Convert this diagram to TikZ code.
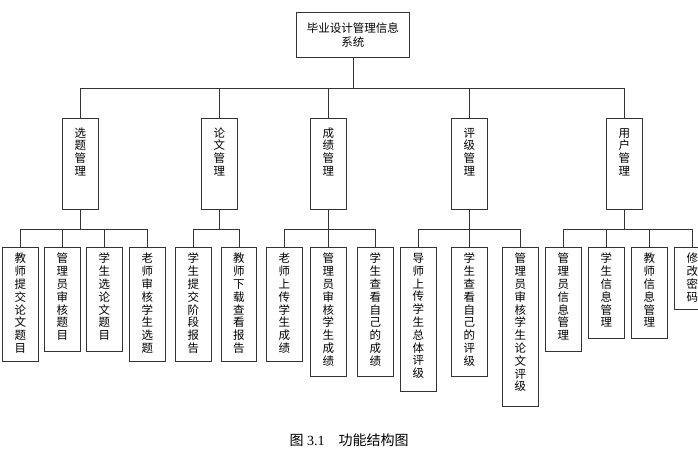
\documentclass[tikz,border=0pt]{standalone}
\usepackage{fontspec}
\setmainfont{Liberation Serif}
\newfontfamily\cjk{Noto Sans CJK SC}
\usetikzlibrary{shadows}
\tikzset{
  bx/.style={draw=black!80, line width=0.9pt, fill=white, drop shadow={shadow xshift=1pt,shadow yshift=-1pt,fill=black!35,opacity=1}, inner sep=0pt},
  vtxt/.style={font=\cjk\fontsize{11.5}{12.8}\selectfont, align=center, anchor=north, inner sep=0pt},
  ln/.style={draw=black!80, line width=0.9pt}
}
\newcommand{\mybox}[6]{% name, x1, y1, x2, y2, text
  \node[bx, anchor=north west, minimum width={(#4-#2)*1pt}, minimum height={(#5-#3)*1pt}] (#1) at (#2pt,-#3pt) {};
  \node[vtxt] (#1t) at ([yshift=-6pt]#1.north) {#6};
}
\begin{document}
\begin{tikzpicture}
\useasboundingbox (0,0) rectangle (698pt,-459pt);
% top
\node[bx, anchor=north west, minimum width=113pt, minimum height=45pt, font=\cjk\fontsize{11.5}{14}\selectfont, align=center] (top) at (296pt,-12pt) {毕业设计管理信息\\系统};
% middle
\mybox{m1}{62}{118}{98}{209}{\\选\\题\\管\\理}
\mybox{m2}{201}{118}{237}{209}{\\论\\文\\管\\理}
\mybox{m3}{310}{118}{346}{209}{\\成\\绩\\管\\理}
\mybox{m4}{451}{118}{487}{209}{\\评\\级\\管\\理}
\mybox{m5}{606}{118}{642}{209}{\\用\\户\\管\\理}
\coordinate (bus) at (0,-88pt);
\foreach \m in {m1,m2,m3,m4,m5} \draw[ln] (top.south) -- (top.south |- bus) -| (\m.north);
% leaves
\mybox{a1}{2}{247}{38}{361}{教\\师\\提\\交\\论\\文\\题\\目}
\mybox{a2}{44}{247}{80}{351}{管\\理\\员\\审\\核\\题\\目}
\mybox{a3}{86}{247}{122}{351}{学\\生\\选\\论\\文\\题\\目}
\mybox{a4}{129}{247}{165}{361}{老\\师\\审\\核\\学\\生\\选\\题}
\mybox{b1}{175}{247}{211}{361}{学\\生\\提\\交\\阶\\段\\报\\告}
\mybox{b2}{221}{247}{256}{361}{教\\师\\下\\载\\查\\看\\报\\告}
\mybox{c1}{266}{247}{302}{361}{老\\师\\上\\传\\学\\生\\成\\绩}
\mybox{c2}{310}{247}{346}{376}{管\\理\\员\\审\\核\\学\\生\\成\\绩}
\mybox{c3}{357}{247}{393}{376}{学\\生\\查\\看\\自\\己\\的\\成\\绩}
\mybox{d1}{400}{247}{436}{391}{导\\师\\上\\传\\学\\生\\总\\体\\评\\级}
\mybox{d2}{451}{247}{487}{376}{学\\生\\查\\看\\自\\己\\的\\评\\级}
\mybox{d3}{502}{247}{538}{406}{管\\理\\员\\审\\核\\学\\生\\论\\文\\评\\级}
\mybox{e1}{545}{247}{581}{351}{管\\理\\员\\信\\息\\管\\理}
\mybox{e2}{588}{247}{624}{338}{学\\生\\信\\息\\管\\理}
\mybox{e3}{631}{247}{667}{338}{教\\师\\信\\息\\管\\理}
\mybox{e4}{674}{247}{710}{309}{修\\改\\密\\码}
\coordinate (lb) at (0,-229pt);
\foreach \p/\c in {m1/a1,m1/a2,m1/a3,m1/a4,m2/b1,m2/b2,m3/c1,m3/c2,m3/c3,m4/d1,m4/d2,m4/d3,m5/e1,m5/e2,m5/e3,m5/e4}
  \draw[ln] (\p.south) -- (\p.south |- lb) -| (\c.north);
\node[font=\fontsize{14}{16}\selectfont] (cap) at (349pt,-440pt) {{\cjk 图} 3.1\quad{\cjk 功能结构图}};
\end{tikzpicture}
\end{document}
